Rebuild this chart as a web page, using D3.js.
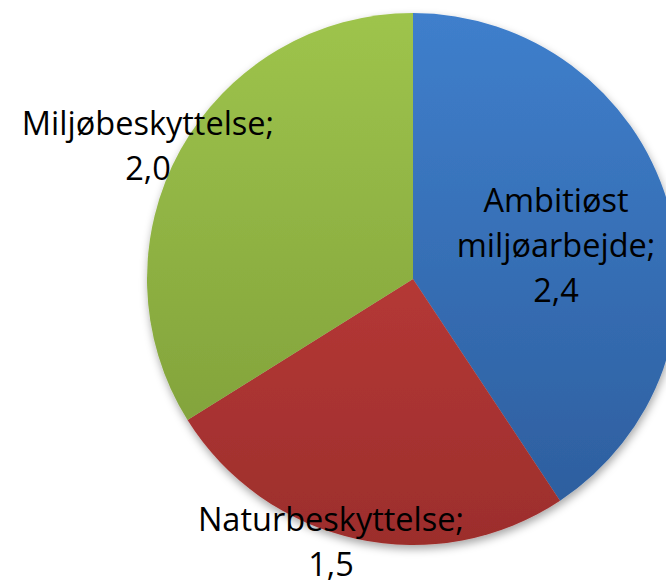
<!DOCTYPE html>
<html>
<head>
<meta charset="utf-8">
<script src="https://cdn.jsdelivr.net/npm/d3@7"></script>
<style>
	html, body { margin: 0; padding: 0; background: #fff; }
	svg { display: block; }
	.label { font-family: "Open Sans", sans-serif; font-size: 32.5px; fill: #000; font-variant-ligatures: none; }
</style>
</head>
<body>
<div id="chart"></div>
<script>
'use strict';

var categories = ['Ambitiøst miljøarbejde', 'Naturbeskyttelse', 'Miljøbeskyttelse'];
var values = [2.4, 1.5, 2.0];
var valueLabels = ['2,4', '1,5', '2,0'];
var labelLines = [['Ambitiøst', 'miljøarbejde;', '2,4'], ['Naturbeskyttelse;', '1,5'], ['Miljøbeskyttelse;', '2,0']];

var width = 666;
var height = 583;
var cx = 413;
var cy = 279;
var radius = 266;

var colorTop = d3.scaleOrdinal().domain(categories).range(['#3f7fcc', '#cd423f', '#9ec44c']);
var colorBottom = d3.scaleOrdinal().domain(categories).range(['#2c5c9b', '#9c2e2c', '#7b9a37']);

var data = categories.map(function(c, i){
	return { name: c, value: values[i], label: valueLabels[i], lines: labelLines[i] };
});

var svg = d3.select('#chart').append('svg')
	.attr('width', width)
	.attr('height', height);

var defs = svg.append('defs');

var shadow = defs.append('filter')
	.attr('id', 'shadow')
	.attr('x', '-10%').attr('y', '-10%')
	.attr('width', '120%').attr('height', '125%');
shadow.append('feDropShadow')
	.attr('dx', 1).attr('dy', 4)
	.attr('stdDeviation', 4)
	.attr('flood-color', '#000')
	.attr('flood-opacity', 0.35);

// vertical gradient over the whole pie, like the office chart fill
data.forEach(function(d, i){
	var grad = defs.append('linearGradient')
		.attr('id', 'grad' + i)
		.attr('gradientUnits', 'userSpaceOnUse')
		.attr('x1', 0).attr('y1', -radius)
		.attr('x2', 0).attr('y2', radius);
	grad.append('stop').attr('offset', '0%').attr('stop-color', colorTop(d.name));
	grad.append('stop').attr('offset', '100%').attr('stop-color', colorBottom(d.name));
});

var pie = d3.pie()
	.sort(null)
	.value(function(d){ return d.value; });

var arc = d3.arc()
	.innerRadius(0)
	.outerRadius(radius);

svg.append('g')
	.attr('transform', 'translate(' + cx + ',' + cy + ')')
	.attr('filter', 'url(#shadow)')
	.selectAll('path.slice')
	.data(pie(data))
	.enter()
	.append('path')
	.attr('class', 'slice')
	.attr('d', arc)
	.attr('fill', function(d, i){ return 'url(#grad' + i + ')'; });

// label anchor positions (center x, first baseline y) relative to pie center
var labelPos = [[143, -67], [-82, 252], [-265, -144]];
var lineHeight = 45;

var labels = svg.append('g')
	.selectAll('text.label')
	.data(data)
	.enter()
	.append('text')
	.attr('class', 'label')
	.attr('text-anchor', 'middle')
	.attr('transform', function(d, i){
		return 'translate(' + (cx + labelPos[i][0]) + ',' + (cy + labelPos[i][1]) + ')';
	});

labels.selectAll('tspan')
	.data(function(d){ return d.lines; })
	.enter()
	.append('tspan')
	.attr('x', 0)
	.attr('y', function(d, i){ return i * lineHeight; })
	.text(function(d){ return d; });
</script>
</body>
</html>
